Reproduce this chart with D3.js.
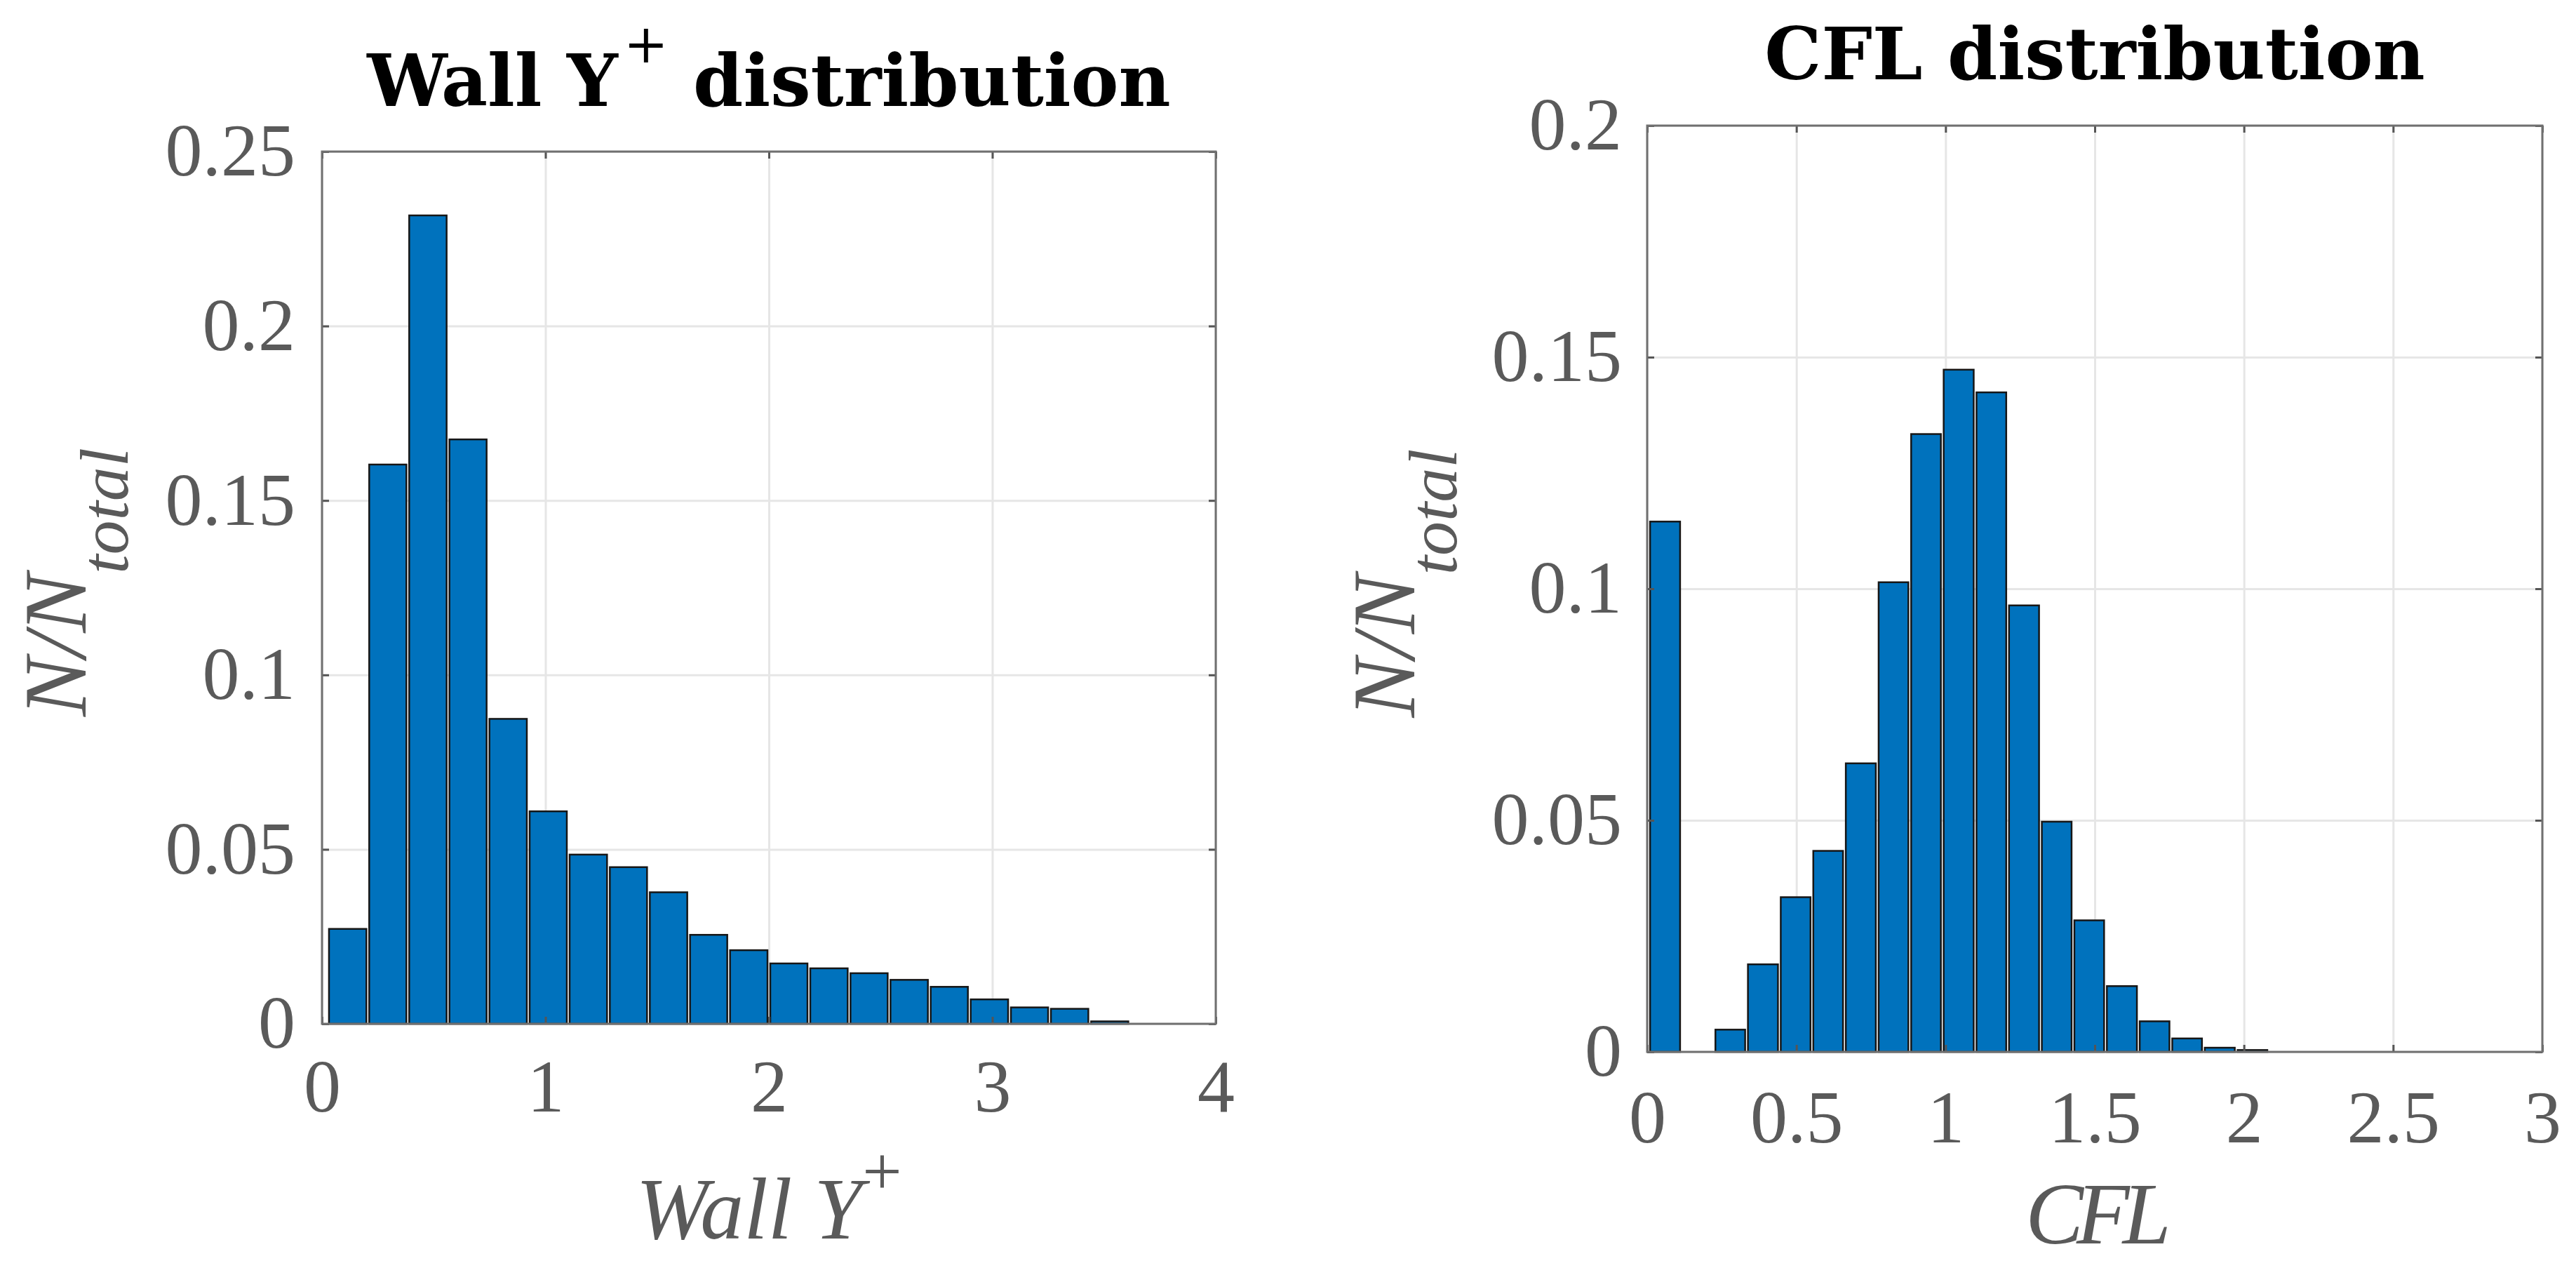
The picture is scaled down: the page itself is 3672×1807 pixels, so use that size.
<!DOCTYPE html>
<html>
<head>
<meta charset="utf-8">
<script src="https://cdn.jsdelivr.net/npm/d3@7"></script>
<style>
  body { margin: 0; background: #ffffff; }
  svg { display: block; }
</style>
</head>
<body>
<div id="vis"></div>
<script>
// ---------------- datos ----------------
// Wall Y+ : bordes de bins y fraccion N/Ntotal
const wallEdges = [0.025, 0.205, 0.384, 0.564, 0.743, 0.923, 1.102, 1.282, 1.461, 1.641, 1.820,
                   2.000, 2.179, 2.359, 2.538, 2.718, 2.897, 3.077, 3.256, 3.436, 3.615];
const wallValues = [0.0272, 0.1603, 0.2317, 0.1675, 0.0874, 0.0609, 0.0485, 0.0449, 0.0377, 0.0255,
                    0.0211, 0.0173, 0.0159, 0.0145, 0.0126, 0.0106, 0.0070, 0.0047, 0.0043, 0.0007];
const wallXTicks = [0, 1, 2, 3, 4];
const wallYTicks = [0, 0.05, 0.1, 0.15, 0.2, 0.25];

// CFL
const cflEdges = [0.005, 0.115, 0.224, 0.333, 0.443, 0.552, 0.661, 0.771, 0.880, 0.989,
                  1.099, 1.208, 1.318, 1.427, 1.536, 1.646, 1.755, 1.864, 1.974, 2.083];
const cflValues = [0.1145, 0, 0.0048, 0.0189, 0.0334, 0.0434, 0.0623, 0.1014, 0.1334, 0.1473,
                   0.1424, 0.0964, 0.0497, 0.0284, 0.0142, 0.0066, 0.0029, 0.0009, 0.0004];
const cflXTicks = [0, 0.5, 1, 1.5, 2, 2.5, 3];
const cflYTicks = [0, 0.05, 0.1, 0.15, 0.2];

// ---------------- lienzo ----------------
const WIDTH = 3672;
const HEIGHT = 1807;
const SVG = d3.select("#vis").append("svg")
    .attr("width", WIDTH)
    .attr("height", HEIGHT)
    .style("background", "#ffffff");

const BAR_COLOR = "#0072BD";
const TEXT_GRAY = "#5a5a5a";
const SERIF = "'Liberation Serif', 'Times New Roman', serif";

const fmt = d => String(+d.toFixed(3));

function histograma(cfg) {
    const x = d3.scaleLinear().domain(cfg.xDomain).range([cfg.left, cfg.right]);
    const y = d3.scaleLinear().domain(cfg.yDomain).range([cfg.bottom, cfg.top]);
    const g = SVG.append("g");
    const w = cfg.right - cfg.left;
    const h = cfg.bottom - cfg.top;

    // grilla (detras de las barras)
    g.append("g")
        .attr("transform", `translate(0,${cfg.bottom})`)
        .call(d3.axisBottom(x).tickValues(cfg.xTicks).tickSize(-h).tickFormat(""))
        .call(s => s.select(".domain").remove())
        .call(s => s.selectAll("line").attr("stroke", "#e6e6e6").attr("stroke-width", 3));
    g.append("g")
        .attr("transform", `translate(${cfg.left},0)`)
        .call(d3.axisLeft(y).tickValues(cfg.yTicks).tickSize(-w).tickFormat(""))
        .call(s => s.select(".domain").remove())
        .call(s => s.selectAll("line").attr("stroke", "#e6e6e6").attr("stroke-width", 3));

    // barras
    const bins = cfg.values.map((v, i) => ({ x0: cfg.edges[i], x1: cfg.edges[i + 1], v: v }))
        .filter(d => d.v > 0);
    g.selectAll("rect.barra")
        .data(bins)
        .enter()
        .append("rect")
        .attr("class", "barra")
        .attr("x", d => x(d.x0) + 2)
        .attr("width", d => x(d.x1) - x(d.x0) - 4)
        .attr("y", d => y(d.v))
        .attr("height", d => y(0) - y(d.v))
        .attr("fill", BAR_COLOR)
        .attr("stroke", "#161616")
        .attr("stroke-width", 2.5);

    // ejes con ticks hacia adentro
    const estilo = s => {
        s.select(".domain").remove();
        s.selectAll("line").attr("stroke", "#555").attr("stroke-width", 3);
        s.selectAll("text")
            .attr("fill", TEXT_GRAY)
            .style("font-family", SERIF)
            .style("font-size", "106px");
    };
    g.append("g")
        .attr("transform", `translate(0,${cfg.bottom})`)
        .call(d3.axisBottom(x).tickValues(cfg.xTicks).tickSize(-10).tickPadding(cfg.xPad).tickFormat(fmt))
        .call(estilo);
    g.append("g")
        .attr("transform", `translate(${cfg.left},0)`)
        .call(d3.axisLeft(y).tickValues(cfg.yTicks).tickSize(-10).tickPadding(cfg.yPad).tickFormat(fmt))
        .call(estilo);
    g.append("g")
        .attr("transform", `translate(0,${cfg.top})`)
        .call(d3.axisTop(x).tickValues(cfg.xTicks).tickSize(-10).tickFormat(""))
        .call(estilo);
    g.append("g")
        .attr("transform", `translate(${cfg.right},0)`)
        .call(d3.axisRight(y).tickValues(cfg.yTicks).tickSize(-10).tickFormat(""))
        .call(estilo);

    // caja
    g.append("rect")
        .attr("x", cfg.left)
        .attr("y", cfg.top)
        .attr("width", w)
        .attr("height", h)
        .attr("fill", "none")
        .attr("stroke", "#707070")
        .attr("stroke-width", 3);

    // titulo
    const titulo = g.append("text")
        .attr("x", (cfg.left + cfg.right) / 2)
        .attr("y", cfg.titleY)
        .attr("text-anchor", "middle")
        .attr("fill", "#000")
        .style("font-family", "'DejaVu Serif', serif")
        .style("font-weight", "bold")
        .style("font-size", "102px");
    cfg.title(titulo);

    // etiqueta eje x
    const xl = g.append("text")
        .attr("x", (cfg.left + cfg.right) / 2)
        .attr("y", cfg.xLabelY)
        .attr("text-anchor", "middle")
        .attr("fill", TEXT_GRAY)
        .style("font-family", SERIF)
        .style("font-style", "italic")
        .style("font-size", "124px");
    cfg.xLabel(xl);

    // etiqueta eje y  (N/N_total)
    const yl = g.append("text")
        .attr("transform", `translate(${cfg.yLabelX},${(cfg.top + cfg.bottom) / 2 - 8}) rotate(-90)`)
        .attr("text-anchor", "middle")
        .attr("fill", TEXT_GRAY)
        .style("font-family", SERIF)
        .style("font-style", "italic")
        .style("font-size", "126px");
    yl.append("tspan").text("N/N");
    yl.append("tspan").attr("dy", 60).style("font-size", "98px").text("total");
}

histograma({
    edges: wallEdges, values: wallValues,
    xTicks: wallXTicks, yTicks: wallYTicks,
    xDomain: [0, 4], yDomain: [0, 0.25],
    left: 459, right: 1733, top: 216, bottom: 1459,
    xPad: 50, yPad: 38,
    titleY: 151, xLabelY: 1765, yLabelX: 122,
    title: t => {
        t.append("tspan").text("Wall Y");
        t.append("tspan").attr("dx", 8).attr("dy", -62)
            .style("font-size", "76px").style("font-weight", "normal").text("+");
        t.append("tspan").attr("dy", 62).text(" distribution");
    },
    xLabel: t => {
        t.append("tspan").text("Wall Y");
        t.append("tspan").attr("dy", -62).style("font-size", "100px")
            .style("font-style", "normal").text("+");
    }
});

histograma({
    edges: cflEdges, values: cflValues,
    xTicks: cflXTicks, yTicks: cflYTicks,
    xDomain: [0, 3], yDomain: [0, 0.2],
    left: 2348, right: 3624, top: 179, bottom: 1499,
    xPad: 54, yPad: 36,
    titleY: 113, xLabelY: 1772, yLabelX: 2016,
    title: t => t.text("CFL distribution"),
    xLabel: t => t.style("letter-spacing", "-10px").text("CFL")
});
</script>
</body>
</html>
